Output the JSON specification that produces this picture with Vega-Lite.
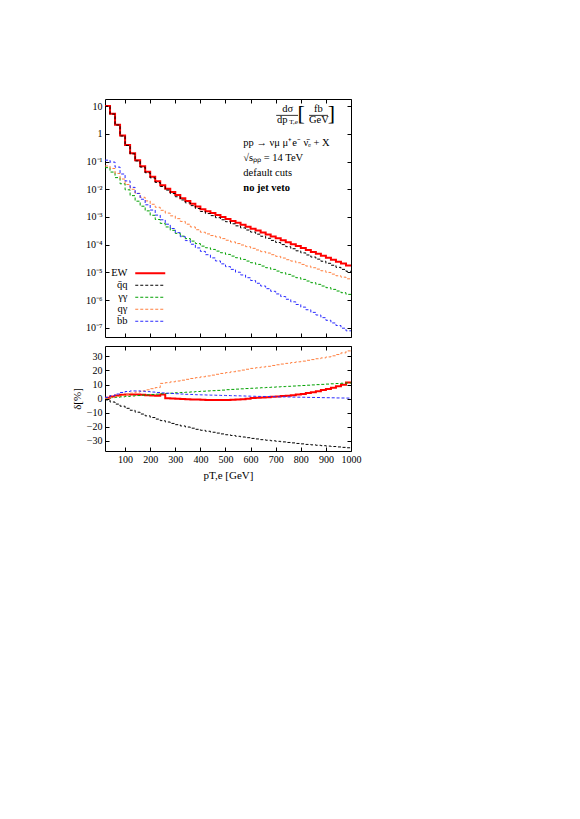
{
"$schema": "https://vega.github.io/schema/vega-lite/v6.json",
"background": "white",
"padding": {"left": 70, "top": 98, "right": 5, "bottom": 5},
"spacing": 7,
"config": {
  "font": "Liberation Serif",
  "view": {"stroke": "#000", "strokeWidth": 1},
  "axis": {"labelFont": "Liberation Serif", "labelFontSize": 10, "labelColor": "#000", "tickColor": "#000", "tickSize": -4, "labelPadding": 7, "labelOverlap": false, "labelFlush": false, "domain": false, "grid": false, "titleFont": "Liberation Serif", "titleFontWeight": "normal", "titleColor": "#000", "titleFontSize": 11},
  "text": {"font": "Liberation Serif", "fontSize": 10, "color": "#000"}
},
"data": {"values": [
{"x":20,"s":"EW","v":10.0,"d":0.5},{"x":40,"s":"EW","v":5.25,"d":1.5},{"x":60,"s":"EW","v":2.14,"d":2.2},{"x":80,"s":"EW","v":0.871,"d":2.6},{"x":100,"s":"EW","v":0.398,"d":2.8},{"x":120,"s":"EW","v":0.200,"d":2.9},{"x":140,"s":"EW","v":0.112,"d":2.8},{"x":160,"s":"EW","v":0.0676,"d":2.6},{"x":180,"s":"EW","v":0.0427,"d":2.4},{"x":200,"s":"EW","v":0.0282,"d":2.2},{"x":220,"s":"EW","v":0.0195,"d":2.0},{"x":240,"s":"EW","v":0.0141,"d":2.8},{"x":260,"s":"EW","v":0.0105,"d":0.2},{"x":280,"s":"EW","v":0.00794,"d":0.0},{"x":300,"s":"EW","v":0.00617,"d":-0.2},{"x":320,"s":"EW","v":0.00479,"d":-0.4},{"x":340,"s":"EW","v":0.00380,"d":-0.5},{"x":360,"s":"EW","v":0.00302,"d":-0.7},{"x":380,"s":"EW","v":0.00240,"d":-0.8},{"x":400,"s":"EW","v":0.00191,"d":-0.9},{"x":420,"s":"EW","v":0.00162,"d":-1.0},{"x":440,"s":"EW","v":0.00138,"d":-1.1},{"x":460,"s":"EW","v":0.00117,"d":-1.1},{"x":480,"s":"EW","v":0.00100,"d":-1.1},{"x":500,"s":"EW","v":8.51e-4,"d":-1.0},{"x":520,"s":"EW","v":7.24e-4,"d":-0.9},{"x":540,"s":"EW","v":6.17e-4,"d":-0.8},{"x":560,"s":"EW","v":5.25e-4,"d":-0.5},{"x":580,"s":"EW","v":4.47e-4,"d":-0.2},{"x":600,"s":"EW","v":3.80e-4,"d":0.3},{"x":620,"s":"EW","v":3.24e-4,"d":0.5},{"x":640,"s":"EW","v":2.75e-4,"d":0.7},{"x":660,"s":"EW","v":2.34e-4,"d":0.9},{"x":680,"s":"EW","v":2.00e-4,"d":1.2},{"x":700,"s":"EW","v":1.70e-4,"d":1.4},{"x":720,"s":"EW","v":1.45e-4,"d":1.7},{"x":740,"s":"EW","v":1.23e-4,"d":2.0},{"x":760,"s":"EW","v":1.05e-4,"d":2.4},{"x":780,"s":"EW","v":8.91e-5,"d":2.8},{"x":800,"s":"EW","v":7.59e-5,"d":3.3},{"x":820,"s":"EW","v":6.46e-5,"d":3.9},{"x":840,"s":"EW","v":5.50e-5,"d":4.5},{"x":860,"s":"EW","v":4.68e-5,"d":5.2},{"x":880,"s":"EW","v":3.98e-5,"d":6.0},{"x":900,"s":"EW","v":3.39e-5,"d":6.8},{"x":920,"s":"EW","v":2.88e-5,"d":7.7},{"x":940,"s":"EW","v":2.45e-5,"d":8.7},{"x":960,"s":"EW","v":2.09e-5,"d":9.9},{"x":980,"s":"EW","v":1.78e-5,"d":11.4},{"x":1000,"s":"EW","v":1.78e-5,"d":11.4},
{"x":20,"s":"q̄q","v":9.77,"d":-1.0},{"x":40,"s":"q̄q","v":5.13,"d":-2.5},{"x":60,"s":"q̄q","v":2.07,"d":-4.0},{"x":80,"s":"q̄q","v":0.832,"d":-5.5},{"x":100,"s":"q̄q","v":0.380,"d":-7.0},{"x":120,"s":"q̄q","v":0.188,"d":-8.4},{"x":140,"s":"q̄q","v":0.105,"d":-9.8},{"x":160,"s":"q̄q","v":0.0631,"d":-11.1},{"x":180,"s":"q̄q","v":0.0394,"d":-12.4},{"x":200,"s":"q̄q","v":0.0257,"d":-13.6},{"x":220,"s":"q̄q","v":0.0176,"d":-14.7},{"x":240,"s":"q̄q","v":0.0126,"d":-15.8},{"x":260,"s":"q̄q","v":0.00933,"d":-16.8},{"x":280,"s":"q̄q","v":0.00700,"d":-17.8},{"x":300,"s":"q̄q","v":0.00537,"d":-18.7},{"x":320,"s":"q̄q","v":0.00412,"d":-19.6},{"x":340,"s":"q̄q","v":0.00324,"d":-20.4},{"x":360,"s":"q̄q","v":0.00257,"d":-21.2},{"x":380,"s":"q̄q","v":0.00202,"d":-22.0},{"x":400,"s":"q̄q","v":0.00158,"d":-22.7},{"x":420,"s":"q̄q","v":0.00133,"d":-23.4},{"x":440,"s":"q̄q","v":0.00112,"d":-24.1},{"x":460,"s":"q̄q","v":9.44e-4,"d":-24.7},{"x":480,"s":"q̄q","v":7.94e-4,"d":-25.3},{"x":500,"s":"q̄q","v":6.76e-4,"d":-25.9},{"x":520,"s":"q̄q","v":5.69e-4,"d":-26.4},{"x":540,"s":"q̄q","v":4.79e-4,"d":-27.0},{"x":560,"s":"q̄q","v":4.03e-4,"d":-27.5},{"x":580,"s":"q̄q","v":3.39e-4,"d":-28.0},{"x":600,"s":"q̄q","v":2.85e-4,"d":-28.5},{"x":620,"s":"q̄q","v":2.40e-4,"d":-28.9},{"x":640,"s":"q̄q","v":2.02e-4,"d":-29.4},{"x":660,"s":"q̄q","v":1.70e-4,"d":-29.8},{"x":680,"s":"q̄q","v":1.43e-4,"d":-30.2},{"x":700,"s":"q̄q","v":1.20e-4,"d":-30.6},{"x":720,"s":"q̄q","v":1.01e-4,"d":-31.0},{"x":740,"s":"q̄q","v":8.51e-5,"d":-31.4},{"x":760,"s":"q̄q","v":7.16e-5,"d":-31.7},{"x":780,"s":"q̄q","v":6.03e-5,"d":-32.1},{"x":800,"s":"q̄q","v":5.07e-5,"d":-32.4},{"x":820,"s":"q̄q","v":4.27e-5,"d":-32.8},{"x":840,"s":"q̄q","v":3.59e-5,"d":-33.1},{"x":860,"s":"q̄q","v":3.02e-5,"d":-33.4},{"x":880,"s":"q̄q","v":2.54e-5,"d":-33.7},{"x":900,"s":"q̄q","v":2.14e-5,"d":-34.0},{"x":920,"s":"q̄q","v":1.82e-5,"d":-34.3},{"x":940,"s":"q̄q","v":1.53e-5,"d":-34.6},{"x":960,"s":"q̄q","v":1.29e-5,"d":-34.9},{"x":980,"s":"q̄q","v":1.10e-5,"d":-35.2},{"x":1000,"s":"q̄q","v":1.10e-5,"d":-35.2},
{"x":20,"s":"γγ","v":0.0603,"d":0.3},{"x":40,"s":"γγ","v":0.0417,"d":0.6},{"x":60,"s":"γγ","v":0.0263,"d":0.9},{"x":80,"s":"γγ","v":0.0158,"d":1.2},{"x":100,"s":"γγ","v":0.00955,"d":1.5},{"x":120,"s":"γγ","v":0.00589,"d":1.8},{"x":140,"s":"γγ","v":0.00372,"d":2.1},{"x":160,"s":"γγ","v":0.00245,"d":2.4},{"x":180,"s":"γγ","v":0.00166,"d":2.6},{"x":200,"s":"γγ","v":0.00115,"d":2.9},{"x":220,"s":"γγ","v":8.13e-4,"d":3.1},{"x":240,"s":"γγ","v":5.89e-4,"d":3.4},{"x":260,"s":"γγ","v":4.37e-4,"d":3.6},{"x":280,"s":"γγ","v":3.31e-4,"d":3.8},{"x":300,"s":"γγ","v":2.57e-4,"d":4.1},{"x":320,"s":"γγ","v":2.04e-4,"d":4.3},{"x":340,"s":"γγ","v":1.66e-4,"d":4.5},{"x":360,"s":"γγ","v":1.35e-4,"d":4.7},{"x":380,"s":"γγ","v":1.10e-4,"d":5.0},{"x":400,"s":"γγ","v":8.91e-5,"d":5.2},{"x":420,"s":"γγ","v":7.76e-5,"d":5.4},{"x":440,"s":"γγ","v":6.76e-5,"d":5.6},{"x":460,"s":"γγ","v":5.89e-5,"d":5.8},{"x":480,"s":"γγ","v":5.13e-5,"d":6.0},{"x":500,"s":"γγ","v":4.47e-5,"d":6.3},{"x":520,"s":"γγ","v":3.89e-5,"d":6.5},{"x":540,"s":"γγ","v":3.39e-5,"d":6.7},{"x":560,"s":"γγ","v":2.95e-5,"d":6.9},{"x":580,"s":"γγ","v":2.57e-5,"d":7.1},{"x":600,"s":"γγ","v":2.24e-5,"d":7.3},{"x":620,"s":"γγ","v":1.95e-5,"d":7.5},{"x":640,"s":"γγ","v":1.70e-5,"d":7.7},{"x":660,"s":"γγ","v":1.48e-5,"d":7.9},{"x":680,"s":"γγ","v":1.29e-5,"d":8.1},{"x":700,"s":"γγ","v":1.12e-5,"d":8.3},{"x":720,"s":"γγ","v":9.77e-6,"d":8.5},{"x":740,"s":"γγ","v":8.51e-6,"d":8.7},{"x":760,"s":"γγ","v":7.41e-6,"d":8.9},{"x":780,"s":"γγ","v":6.46e-6,"d":9.1},{"x":800,"s":"γγ","v":5.62e-6,"d":9.3},{"x":820,"s":"γγ","v":4.90e-6,"d":9.5},{"x":840,"s":"γγ","v":4.27e-6,"d":9.7},{"x":860,"s":"γγ","v":3.72e-6,"d":9.9},{"x":880,"s":"γγ","v":3.24e-6,"d":10.1},{"x":900,"s":"γγ","v":2.82e-6,"d":10.3},{"x":920,"s":"γγ","v":2.45e-6,"d":10.5},{"x":940,"s":"γγ","v":2.14e-6,"d":10.7},{"x":960,"s":"γγ","v":1.86e-6,"d":10.9},{"x":980,"s":"γγ","v":1.62e-6,"d":11.1},{"x":1000,"s":"γγ","v":1.62e-6,"d":11.1},
{"x":20,"s":"qγ","v":0.0692,"d":0.2},{"x":40,"s":"qγ","v":0.0562,"d":0.8},{"x":60,"s":"qγ","v":0.0372,"d":1.5},{"x":80,"s":"qγ","v":0.0234,"d":2.2},{"x":100,"s":"qγ","v":0.0148,"d":3.0},{"x":120,"s":"qγ","v":0.0100,"d":3.8},{"x":140,"s":"qγ","v":0.00708,"d":4.6},{"x":160,"s":"qγ","v":0.00513,"d":5.4},{"x":180,"s":"qγ","v":0.00380,"d":6.2},{"x":200,"s":"qγ","v":0.00288,"d":7.0},{"x":220,"s":"qγ","v":0.00224,"d":7.8},{"x":240,"s":"qγ","v":0.00174,"d":10.8},{"x":260,"s":"qγ","v":0.00138,"d":11.3},{"x":280,"s":"qγ","v":0.00110,"d":11.9},{"x":300,"s":"qγ","v":8.71e-4,"d":12.5},{"x":320,"s":"qγ","v":6.92e-4,"d":13.1},{"x":340,"s":"qγ","v":5.50e-4,"d":13.7},{"x":360,"s":"qγ","v":4.37e-4,"d":14.3},{"x":380,"s":"qγ","v":3.47e-4,"d":14.9},{"x":400,"s":"qγ","v":2.82e-4,"d":15.5},{"x":420,"s":"qγ","v":2.45e-4,"d":16.1},{"x":440,"s":"qγ","v":2.14e-4,"d":16.7},{"x":460,"s":"qγ","v":1.91e-4,"d":17.3},{"x":480,"s":"qγ","v":1.66e-4,"d":17.9},{"x":500,"s":"qγ","v":1.45e-4,"d":18.5},{"x":520,"s":"qγ","v":1.26e-4,"d":19.1},{"x":540,"s":"qγ","v":1.10e-4,"d":19.7},{"x":560,"s":"qγ","v":9.77e-5,"d":20.3},{"x":580,"s":"qγ","v":8.51e-5,"d":20.9},{"x":600,"s":"qγ","v":7.41e-5,"d":21.5},{"x":620,"s":"qγ","v":6.46e-5,"d":22.0},{"x":640,"s":"qγ","v":5.62e-5,"d":22.5},{"x":660,"s":"qγ","v":5.01e-5,"d":23.0},{"x":680,"s":"qγ","v":4.37e-5,"d":23.6},{"x":700,"s":"qγ","v":3.80e-5,"d":24.1},{"x":720,"s":"qγ","v":3.31e-5,"d":24.6},{"x":740,"s":"qγ","v":2.88e-5,"d":25.1},{"x":760,"s":"qγ","v":2.57e-5,"d":25.7},{"x":780,"s":"qγ","v":2.24e-5,"d":26.2},{"x":800,"s":"qγ","v":1.95e-5,"d":26.7},{"x":820,"s":"qγ","v":1.70e-5,"d":27.3},{"x":840,"s":"qγ","v":1.48e-5,"d":27.8},{"x":860,"s":"qγ","v":1.32e-5,"d":28.4},{"x":880,"s":"qγ","v":1.15e-5,"d":29.0},{"x":900,"s":"qγ","v":1.00e-5,"d":29.7},{"x":920,"s":"qγ","v":8.71e-6,"d":30.5},{"x":940,"s":"qγ","v":7.59e-6,"d":31.4},{"x":960,"s":"qγ","v":6.76e-6,"d":32.6},{"x":980,"s":"qγ","v":5.89e-6,"d":34.0},{"x":1000,"s":"qγ","v":5.89e-6,"d":34.0},
{"x":20,"s":"b̄b","v":0.112,"d":0.8},{"x":40,"s":"b̄b","v":0.0955,"d":2.0},{"x":60,"s":"b̄b","v":0.0631,"d":3.2},{"x":80,"s":"b̄b","v":0.0355,"d":4.3},{"x":100,"s":"b̄b","v":0.0200,"d":5.0},{"x":120,"s":"b̄b","v":0.0117,"d":5.4},{"x":140,"s":"b̄b","v":0.00708,"d":5.4},{"x":160,"s":"b̄b","v":0.00437,"d":5.2},{"x":180,"s":"b̄b","v":0.00275,"d":4.9},{"x":200,"s":"b̄b","v":0.00178,"d":4.6},{"x":220,"s":"b̄b","v":0.00117,"d":4.3},{"x":240,"s":"b̄b","v":7.94e-4,"d":4.0},{"x":260,"s":"b̄b","v":5.50e-4,"d":3.8},{"x":280,"s":"b̄b","v":3.85e-4,"d":3.6},{"x":300,"s":"b̄b","v":2.72e-4,"d":3.4},{"x":320,"s":"b̄b","v":1.95e-4,"d":3.2},{"x":340,"s":"b̄b","v":1.41e-4,"d":3.0},{"x":360,"s":"b̄b","v":1.04e-4,"d":2.9},{"x":380,"s":"b̄b","v":7.67e-5,"d":2.7},{"x":400,"s":"b̄b","v":5.75e-5,"d":2.6},{"x":420,"s":"b̄b","v":4.37e-5,"d":2.5},{"x":440,"s":"b̄b","v":3.35e-5,"d":2.4},{"x":460,"s":"b̄b","v":2.60e-5,"d":2.3},{"x":480,"s":"b̄b","v":2.04e-5,"d":2.2},{"x":500,"s":"b̄b","v":1.62e-5,"d":2.1},{"x":520,"s":"b̄b","v":1.29e-5,"d":2.0},{"x":540,"s":"b̄b","v":1.02e-5,"d":1.9},{"x":560,"s":"b̄b","v":8.13e-6,"d":1.8},{"x":580,"s":"b̄b","v":6.46e-6,"d":1.7},{"x":600,"s":"b̄b","v":5.13e-6,"d":1.6},{"x":620,"s":"b̄b","v":4.07e-6,"d":1.5},{"x":640,"s":"b̄b","v":3.24e-6,"d":1.45},{"x":660,"s":"b̄b","v":2.60e-6,"d":1.4},{"x":680,"s":"b̄b","v":2.09e-6,"d":1.3},{"x":700,"s":"b̄b","v":1.68e-6,"d":1.2},{"x":720,"s":"b̄b","v":1.35e-6,"d":1.15},{"x":740,"s":"b̄b","v":1.08e-6,"d":1.1},{"x":760,"s":"b̄b","v":8.71e-7,"d":1.0},{"x":780,"s":"b̄b","v":7.00e-7,"d":0.95},{"x":800,"s":"b̄b","v":5.62e-7,"d":0.9},{"x":820,"s":"b̄b","v":4.52e-7,"d":0.8},{"x":840,"s":"b̄b","v":3.63e-7,"d":0.75},{"x":860,"s":"b̄b","v":2.92e-7,"d":0.7},{"x":880,"s":"b̄b","v":2.34e-7,"d":0.6},{"x":900,"s":"b̄b","v":1.88e-7,"d":0.55},{"x":920,"s":"b̄b","v":1.51e-7,"d":0.5},{"x":940,"s":"b̄b","v":1.22e-7,"d":0.4},{"x":960,"s":"b̄b","v":9.77e-8,"d":0.35},{"x":980,"s":"b̄b","v":7.85e-8,"d":0.3},{"x":1000,"s":"b̄b","v":7.85e-8,"d":0.3}
]},
"vconcat": [
{
  "width": 246, "height": 238,
  "layer": [
    {
      "transform": [{"filter": "datum.s === 'EW'"}],
      "mark": {"type": "line", "interpolate": "step-after", "clip": true, "strokeWidth": 2},
      "encoding": {
        "x": {"field": "x", "type": "quantitative", "scale": {"domain": [20, 1000], "nice": false, "zero": false}, "axis": {"orient": "bottom", "values": [100,200,300,400,500,600,700,800,900,1000], "labels": false, "title": null}},
        "y": {"field": "v", "type": "quantitative", "scale": {"type": "log", "domain": [4.7e-8, 18], "nice": false}, "axis": {"orient": "left", "values": [1e-7,1e-6,1e-5,1e-4,1e-3,0.01,0.1,1,10], "title": null, "labelExpr": "datum.value > 5 ? '10' : datum.value > 0.5 ? '1' : datum.value > 0.05 ? '10⁻¹' : datum.value > 0.005 ? '10⁻²' : datum.value > 0.0005 ? '10⁻³' : datum.value > 0.00005 ? '10⁻⁴' : datum.value > 0.000005 ? '10⁻⁵' : datum.value > 0.0000005 ? '10⁻⁶' : '10⁻⁷'"}},
        "color": {"field": "s", "type": "nominal", "scale": {"domain": ["EW","q̄q","γγ","qγ","b̄b"], "range": ["#ff0000","#000000","#00a000","#ff7f3f","#2a2aff"]},
          "legend": {"title": null, "orient": "none", "legendX": 40, "legendY": 169, "symbolType": "M-3,0H3", "symbolSize": 100, "labelAlign": "right", "labelOffset": -28, "rowPadding": 1, "padding": 0, "labelFontSize": 10.5, "labelFont": "Liberation Serif", "labelColor": "#000", "labelLimit": 0,
            "encode": {"symbols": {"update": {"strokeWidth": {"signal": "datum.value === 'EW' ? 2 : 1"}}}}}},
        "strokeDash": {"field": "s", "type": "nominal", "scale": {"domain": ["EW","q̄q","γγ","qγ","b̄b"], "range": [[1,0],[3,2],[3,2],[3,2],[3,2]]},
          "legend": {"title": null, "orient": "none", "legendX": 40, "legendY": 169, "symbolType": "M-3,0H3", "symbolSize": 100, "labelAlign": "right", "labelOffset": -28, "rowPadding": 1, "padding": 0, "labelFontSize": 10.5, "labelFont": "Liberation Serif", "labelColor": "#000", "labelLimit": 0,
            "encode": {"symbols": {"update": {"strokeWidth": {"signal": "datum.value === 'EW' ? 2 : 1"}}}}}}
      }
    },
    {
      "transform": [{"filter": "datum.s !== 'EW'"}],
      "mark": {"type": "line", "interpolate": "step-after", "clip": true, "strokeWidth": 1},
      "encoding": {
        "x": {"field": "x", "type": "quantitative", "axis": null},
        "y": {"field": "v", "type": "quantitative", "scale": {"type": "log"}, "axis": null},
        "color": {"field": "s", "type": "nominal",
          "legend": {"title": null, "orient": "none", "legendX": 40, "legendY": 169, "symbolType": "M-3,0H3", "symbolSize": 100, "labelAlign": "right", "labelOffset": -28, "rowPadding": 1, "padding": 0, "labelFontSize": 10.5, "labelFont": "Liberation Serif", "labelColor": "#000", "labelLimit": 0,
            "encode": {"symbols": {"update": {"strokeWidth": {"signal": "datum.value === 'EW' ? 2 : 1"}}}}}},
        "strokeDash": {"field": "s", "type": "nominal",
          "legend": {"title": null, "orient": "none", "legendX": 40, "legendY": 169, "symbolType": "M-3,0H3", "symbolSize": 100, "labelAlign": "right", "labelOffset": -28, "rowPadding": 1, "padding": 0, "labelFontSize": 10.5, "labelFont": "Liberation Serif", "labelColor": "#000", "labelLimit": 0,
            "encode": {"symbols": {"update": {"strokeWidth": {"signal": "datum.value === 'EW' ? 2 : 1"}}}}}}
      }
    },
    {
      "mark": {"type": "point", "opacity": 0},
      "encoding": {
        "x": {"field": "x", "type": "quantitative", "axis": {"orient": "top", "values": [100,200,300,400,500,600,700,800,900,1000], "labels": false, "title": null}},
        "y": {"field": "v", "type": "quantitative", "scale": {"type": "log"}, "axis": {"orient": "right", "values": [1e-7,1e-6,1e-5,1e-4,1e-3,0.01,0.1,1,10], "labels": false, "title": null}}
      }
    },
    {"data": {"values": [{}]}, "mark": {"type": "text", "text": "dσ", "fontSize": 10.5, "align": "center", "baseline": "middle"},
     "encoding": {"x": {"datum": 748, "type": "quantitative", "axis": null}, "y": {"datum": 7.6, "type": "quantitative", "scale": {"type": "log"}, "axis": null}}},
    {"data": {"values": [{}]}, "mark": {"type": "rule", "color": "#000", "strokeWidth": 0.8},
     "encoding": {"x": {"datum": 702, "type": "quantitative", "axis": null}, "x2": {"datum": 789}, "y": {"datum": 4.62, "type": "quantitative", "scale": {"type": "log"}, "axis": null}}},
    {"data": {"values": [{}]}, "mark": {"type": "text", "text": "dp", "fontSize": 10.5, "align": "center", "baseline": "middle"},
     "encoding": {"x": {"datum": 726, "type": "quantitative", "axis": null}, "y": {"datum": 3.13, "type": "quantitative", "scale": {"type": "log"}, "axis": null}}},
    {"data": {"values": [{}]}, "mark": {"type": "text", "text": "T,e", "fontSize": 7, "align": "center", "baseline": "middle"},
     "encoding": {"x": {"datum": 771, "type": "quantitative", "axis": null}, "y": {"datum": 2.62, "type": "quantitative", "scale": {"type": "log"}, "axis": null}}},
    {"data": {"values": [{}]}, "mark": {"type": "text", "text": "[", "fontSize": 22, "fontWeight": 300, "align": "center", "baseline": "middle"},
     "encoding": {"x": {"datum": 801, "type": "quantitative", "axis": null}, "y": {"datum": 5.6, "type": "quantitative", "scale": {"type": "log"}, "axis": null}}},
    {"data": {"values": [{}]}, "mark": {"type": "text", "text": "fb", "fontSize": 10.5, "align": "center", "baseline": "middle"},
     "encoding": {"x": {"datum": 870, "type": "quantitative", "axis": null}, "y": {"datum": 7.6, "type": "quantitative", "scale": {"type": "log"}, "axis": null}}},
    {"data": {"values": [{}]}, "mark": {"type": "rule", "color": "#000", "strokeWidth": 0.8},
     "encoding": {"x": {"datum": 833, "type": "quantitative", "axis": null}, "x2": {"datum": 908}, "y": {"datum": 4.62, "type": "quantitative", "scale": {"type": "log"}, "axis": null}}},
    {"data": {"values": [{}]}, "mark": {"type": "text", "text": "GeV", "fontSize": 10.5, "align": "center", "baseline": "middle"},
     "encoding": {"x": {"datum": 872, "type": "quantitative", "axis": null}, "y": {"datum": 3.13, "type": "quantitative", "scale": {"type": "log"}, "axis": null}}},
    {"data": {"values": [{}]}, "mark": {"type": "text", "text": "]", "fontSize": 22, "fontWeight": 300, "align": "center", "baseline": "middle"},
     "encoding": {"x": {"datum": 922, "type": "quantitative", "axis": null}, "y": {"datum": 5.6, "type": "quantitative", "scale": {"type": "log"}, "axis": null}}},
    {"data": {"values": [{}]}, "mark": {"type": "text", "text": "pp → νμ μ⁺e⁻ ν̄ₑ + X", "fontSize": 10.5, "align": "left", "baseline": "middle"},
     "encoding": {"x": {"datum": 571, "type": "quantitative", "axis": null}, "y": {"datum": 0.467, "type": "quantitative", "scale": {"type": "log"}, "axis": null}}},
    {"data": {"values": [{}]}, "mark": {"type": "text", "text": "√sₚₚ = 14 TeV", "fontSize": 10.5, "align": "left", "baseline": "middle"},
     "encoding": {"x": {"datum": 571, "type": "quantitative", "axis": null}, "y": {"datum": 0.135, "type": "quantitative", "scale": {"type": "log"}, "axis": null}}},
    {"data": {"values": [{}]}, "mark": {"type": "text", "text": "default cuts", "fontSize": 10.5, "align": "left", "baseline": "middle"},
     "encoding": {"x": {"datum": 571, "type": "quantitative", "axis": null}, "y": {"datum": 0.0389, "type": "quantitative", "scale": {"type": "log"}, "axis": null}}},
    {"data": {"values": [{}]}, "mark": {"type": "text", "text": "no jet veto", "fontSize": 10.5, "fontWeight": "bold", "align": "left", "baseline": "middle"},
     "encoding": {"x": {"datum": 571, "type": "quantitative", "axis": null}, "y": {"datum": 0.0112, "type": "quantitative", "scale": {"type": "log"}, "axis": null}}}
  ],
  "resolve": {"axis": {"x": "independent", "y": "independent"}}
},
{
  "width": 246, "height": 105,
  "layer": [
    {
      "transform": [{"filter": "datum.s === 'EW'"}],
      "mark": {"type": "line", "interpolate": "step-after", "clip": true, "strokeWidth": 2},
      "encoding": {
        "x": {"field": "x", "type": "quantitative", "scale": {"domain": [20, 1000], "nice": false, "zero": false}, "axis": {"orient": "bottom", "values": [100,200,300,400,500,600,700,800,900,1000], "format": "d", "title": "pT,e [GeV]", "titlePadding": 5}},
        "y": {"field": "d", "type": "quantitative", "scale": {"domain": [-37.5, 37.5], "nice": false, "zero": false}, "axis": {"orient": "left", "values": [-30,-20,-10,0,10,20,30], "title": "δ[%]", "titlePadding": 4}},
        "color": {"field": "s", "type": "nominal", "scale": {"domain": ["EW","q̄q","γγ","qγ","b̄b"], "range": ["#ff0000","#000000","#00a000","#ff7f3f","#2a2aff"]}, "legend": null},
        "strokeDash": {"field": "s", "type": "nominal", "scale": {"domain": ["EW","q̄q","γγ","qγ","b̄b"], "range": [[1,0],[3,2],[3,2],[3,2],[3,2]]}, "legend": null}
      }
    },
    {
      "transform": [{"filter": "datum.s !== 'EW'"}],
      "mark": {"type": "line", "interpolate": "step-after", "clip": true, "strokeWidth": 1},
      "encoding": {
        "x": {"field": "x", "type": "quantitative", "axis": null},
        "y": {"field": "d", "type": "quantitative", "axis": null},
        "color": {"field": "s", "type": "nominal", "legend": null},
        "strokeDash": {"field": "s", "type": "nominal", "legend": null}
      }
    },
    {
      "mark": {"type": "point", "opacity": 0},
      "encoding": {
        "x": {"field": "x", "type": "quantitative", "axis": {"orient": "top", "values": [100,200,300,400,500,600,700,800,900,1000], "labels": false, "title": null}},
        "y": {"field": "d", "type": "quantitative", "axis": {"orient": "right", "values": [-30,-20,-10,0,10,20,30], "labels": false, "title": null}}
      }
    }
  ],
  "resolve": {"axis": {"x": "independent", "y": "independent"}}
}
]
}
